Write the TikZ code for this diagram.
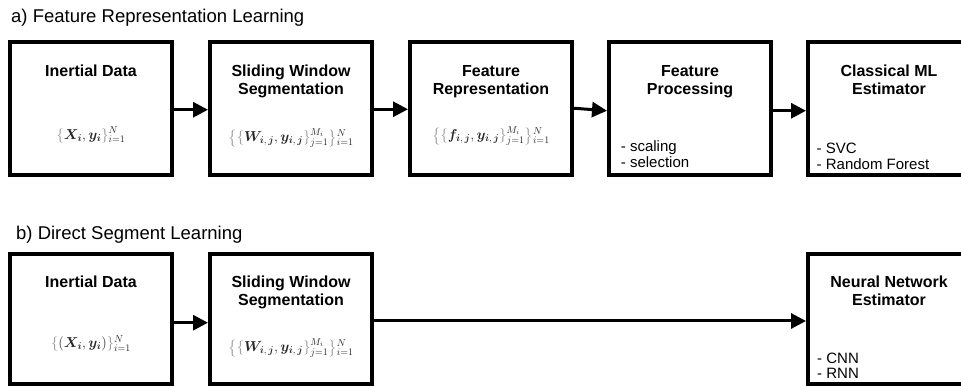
\documentclass[tikz,border=0pt]{standalone}
\usepackage{amsmath,bm}
\usepackage{fontspec}
\setmainfont{Liberation Sans}
\usetikzlibrary{arrows.meta,calc}
\newcommand{\mylb}{{\color{black!45}\{}}
\newcommand{\myrb}{{\color{black!45}\}}}
\newcommand{\myLb}{{\color{black!45}\bigl\{}}
\newcommand{\myRb}{{\color{black!45}\bigr\}}}
\begin{document}
\begin{tikzpicture}[x=1pt,y=1pt,
 box/.style={draw, rectangle, line width=4pt, minimum width=162pt, minimum height=#1, inner sep=0pt},
 hd/.style={font=\fontsize{16}{19}\selectfont\bfseries, inner sep=0pt, anchor=base},
 lst/.style={font=\fontsize{15}{18}\selectfont, inner sep=0pt, anchor=base west},
 fm/.style={font=\fontsize{14.4}{17}\selectfont, inner sep=0pt, text=black!85},
 ttl/.style={font=\fontsize{18.5}{22}\selectfont, inner sep=0pt, anchor=base west},
 arr/.style={line width=3pt, -{Triangle[length=15pt,width=15pt]}}]
\useasboundingbox (0,0) rectangle (961,387);
\clip (0,0) rectangle (961,387);

% titles
\node[ttl] (ta) at (11,364.3) {a) Feature Representation Learning};
\node[ttl] (tb) at (16,147) {b) Direct Segment Learning};

% row a boxes
\node[box=132.5pt] (a1) at (91,278.25) {};
\node[box=132.5pt] (a2) at (291,278.25) {};
\node[box=132.5pt] (a3) at (491,278.25) {};
\node[box=132.5pt] (a4) at (690,278.25) {};
\node[box=132.5pt] (a5) at (889,278.25) {};

% row b boxes
\node[box=130pt] (b1) at (91,68) {};
\node[box=130pt] (b2) at (291,68) {};
\node[box=130pt] (b3) at (889,68) {};

% row a texts
\node[hd] (a1h) at ($(a1.center)+(0,31.75)$) {Inertial Data};
\node[fm] (a1f) at ($(a1.center)+(0,-26.25)$) {$\mylb\bm{X}_{\bm{i}},\bm{y}_{\bm{i}}\myrb_{i=1}^{N}$};

\node[hd] (a2h) at ($(a2.center)+(0,31.75)$) {Sliding Window};
\node[hd] (a2h2) at ($(a2.center)+(0,14.25)$) {Segmentation};
\node[fm] (a2f) at ($(a2.center)+(0,-29.25)$) {$\myLb\mylb\bm{W}_{\bm{i},\,\bm{j}},\bm{y}_{\bm{i},\,\bm{j}}\myrb_{j=1}^{M_i}\myRb_{i=1}^{N}$};

\node[hd] (a3h) at ($(a3.center)+(0,31.75)$) {Feature};
\node[hd] (a3h2) at ($(a3.center)+(0,14.25)$) {Representation};
\node[fm] (a3f) at ($(a3.center)+(0,-27.25)$) {$\myLb\mylb\bm{f}_{\bm{i},\,\bm{j}},\bm{y}_{\bm{i},\,\bm{j}}\myrb_{j=1}^{M_i}\myRb_{i=1}^{N}$};

\node[hd] (a4h) at ($(a4.center)+(0,31.75)$) {Feature};
\node[hd] (a4h2) at ($(a4.center)+(0,14.25)$) {Processing};
\node[lst] (a4l1) at ($(a4.center)+(-69.3,-43.25)$) {- scaling};
\node[lst] (a4l2) at ($(a4.center)+(-69.3,-58.75)$) {- selection};

\node[hd] (a5h) at ($(a5.center)+(0,31.75)$) {Classical ML};
\node[hd] (a5h2) at ($(a5.center)+(0,14.25)$) {Estimator};
\node[lst] (a5l1) at ($(a5.center)+(-72.5,-44.5)$) {- SVC};
\node[lst] (a5l2) at ($(a5.center)+(-72.5,-60.5)$) {- Random Forest};

% row b texts
\node[hd] (b1h) at ($(b1.center)+(0,31.5)$) {Inertial Data};
\node[fm] (b1f) at ($(b1.center)+(0,-24.3)$) {$\mylb(\bm{X}_{\bm{i}},\bm{y}_{\bm{i}})\myrb_{i=1}^{N}$};

\node[hd] (b2h) at ($(b2.center)+(0,31.5)$) {Sliding Window};
\node[hd] (b2h2) at ($(b2.center)+(0,13.5)$) {Segmentation};
\node[fm] (b2f) at ($(b2.center)+(0,-29)$) {$\myLb\mylb\bm{W}_{\bm{i},\,\bm{j}},\bm{y}_{\bm{i},\,\bm{j}}\myrb_{j=1}^{M_i}\myRb_{i=1}^{N}$};

\node[hd] (b3h) at ($(b3.center)+(0,31.5)$) {Neural Network};
\node[hd] (b3h2) at ($(b3.center)+(0,13.5)$) {Estimator};
\node[lst] (b3l1) at ($(b3.center)+(-72,-45)$) {- CNN};
\node[lst] (b3l2) at ($(b3.center)+(-72,-59.5)$) {- RNN};

% arrows row a
\draw[arr] ([yshift=-1pt]a1.east) -- ([yshift=-1pt]a2.west);
\draw[arr] ([yshift=-0.5pt]a2.east) -- ([yshift=-0.5pt]a3.west);
\draw[arr] ([yshift=0.5pt]a3.east) -- ([yshift=-2pt]a4.west);
\draw[arr] ([yshift=-2pt]a4.east) -- ([yshift=-2pt]a5.west);

% arrows row b
\draw[arr] ([yshift=-3.7pt]b1.east) -- ([yshift=-3.7pt]b2.west);
\draw[arr] ([yshift=-2pt]b2.east) -- ([yshift=-2pt]b3.west);
\end{tikzpicture}
\end{document}
